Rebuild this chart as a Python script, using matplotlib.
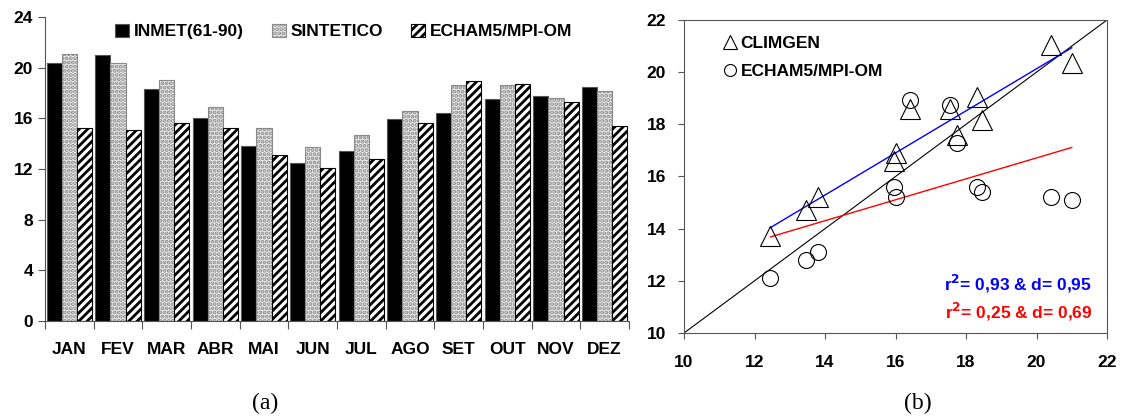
import numpy as np
import matplotlib
matplotlib.use("Agg")
import matplotlib.pyplot as plt

plt.rcParams['font.family'] = ['Liberation Sans', 'DejaVu Sans']
plt.rcParams['font.weight'] = 'bold'
plt.rcParams['hatch.linewidth'] = 2.0

meses = ['JAN', 'FEV', 'MAR', 'ABR', 'MAI', 'JUN', 'JUL', 'AGO', 'SET', 'OUT', 'NOV', 'DEZ']
inmet = [20.4, 21.0, 18.3, 16.0, 13.8, 12.45, 13.45, 15.95, 16.4, 17.55, 17.75, 18.45]
sintetico = [21.05, 20.35, 19.05, 16.9, 15.2, 13.7, 14.7, 16.6, 18.6, 18.6, 17.6, 18.15]
echam = [15.2, 15.1, 15.6, 15.2, 13.1, 12.1, 12.8, 15.6, 18.95, 18.75, 17.3, 15.4]

r2_clim = "r$^2$= 0,93 & d= 0,95"
r2_echam = "r$^2$= 0,25 & d= 0,69"

fig = plt.figure(figsize=(11.28, 4.18), dpi=100)

# (a) barras
ax1 = fig.add_axes([45/1128, 1-321/418, 584/1128, 304/418])
x = np.arange(len(meses))
w = 0.31
ax1.bar(x - w, inmet, w, color='black', edgecolor='#555555', linewidth=0.8, label='INMET(61-90)')
ax1.bar(x, sintetico, w, color='#eeeeee', edgecolor='#8a8a8a', hatch='....', linewidth=0.8, label='SINTETICO')
ax1.bar(x + w, echam, w, color='white', edgecolor='black', hatch='////', linewidth=0.8, label='ECHAM5/MPI-OM')
ax1.set_xlim(-0.5, 11.5)
ax1.set_ylim(0, 24)
ax1.set_yticks(range(0, 25, 4))
ax1.set_xticks(np.arange(-0.5, 12, 1))
ax1.set_xticklabels([])
ax1.set_xticks(x, minor=True)
ax1.set_xticklabels(meses, minor=True)
ax1.tick_params(axis='x', which='minor', length=0, pad=15, labelsize=12.5)
ax1.tick_params(axis='x', which='major', length=6, color='#555555', direction='out')
ax1.tick_params(axis='y', length=5, labelsize=12.5, color='#555555')
for s in ['top', 'right']:
    ax1.spines[s].set_visible(False)
for s in ['left', 'bottom']:
    ax1.spines[s].set_color('#555555')
ax1.legend(loc='upper right', bbox_to_anchor=(0.93, 1.03), ncol=3, frameon=False,
           handlelength=0.8, handleheight=0.8, handletextpad=0.3, columnspacing=1.6,
           prop={'size': 12.5, 'weight': 'bold'})

# (b) dispersao
ax2 = fig.add_axes([684/1128, 1-333/418, 423/1128, 313/418])
ax2.plot([10, 22], [10, 22], color='black', lw=0.8)
a, b = np.polyfit(inmet, sintetico, 1)
xs = np.array([min(inmet), max(inmet)])
ax2.plot(xs, a*xs + b, color='blue', lw=1)
a2, b2 = np.polyfit(inmet, echam, 1)
ax2.plot(xs, a2*xs + b2, color='red', lw=1)
ax2.plot(inmet, sintetico, '^', ms=14, mfc='none', mec='black', mew=0.8, label='CLIMGEN')
ax2.plot(inmet, echam, 'o', ms=11.5, mfc='none', mec='black', mew=0.8, label='ECHAM5/MPI-OM')
ax2.set_xlim(10, 22)
ax2.set_ylim(10, 22)
ax2.set_xticks(range(10, 23, 2))
ax2.set_yticks(range(10, 23, 2))
ax2.tick_params(labelsize=12.5, length=4, color='#555555')
ax2.tick_params(axis='x', pad=12)
ax2.tick_params(axis='y', pad=9)
for s in ax2.spines.values():
    s.set_color('#555555')
ax2.legend(loc='upper left', bbox_to_anchor=(0.06, 1.0), frameon=False, numpoints=1,
           handlelength=0.6, handletextpad=0.3, labelspacing=0.75, markerscale=0.75,
           prop={'size': 12.5, 'weight': 'bold'})
ax2.text(0.965, 0.135, r2_clim, transform=ax2.transAxes, color='blue', ha='right', fontsize=12.5, weight='bold')
ax2.text(0.965, 0.045, r2_echam, transform=ax2.transAxes, color='red', ha='right', fontsize=12.5, weight='bold')

fig.text(265/1128, 1-403/418, '(a)', family='Liberation Serif', weight='normal', fontsize=17, ha='center', va='center')
fig.text(918/1128, 1-403/418, '(b)', family='Liberation Serif', weight='normal', fontsize=17, ha='center', va='center')

fig.savefig('out.png', dpi=100)
